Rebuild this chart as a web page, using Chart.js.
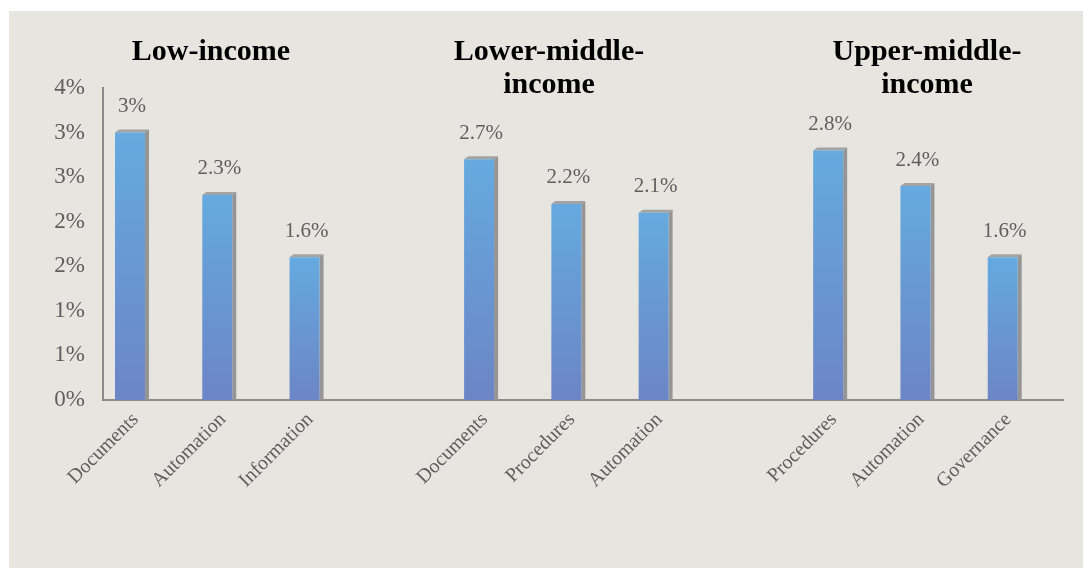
<!DOCTYPE html>
<html>
<head>
<meta charset="utf-8">
<script src="https://cdn.jsdelivr.net/npm/chart.js@4/dist/chart.umd.min.js"></script>
<style>
  html, body { margin: 0; padding: 0; background: #ffffff; }
  #wrap { position: relative; width: 1083px; height: 568px; }
</style>
</head>
<body>
<div id="wrap"><canvas id="c"></canvas></div>
<script>
// Top barriers by income group (share of firms, %)
const categories = [
  'Documents', 'Automation', 'Information', '',
  'Documents', 'Procedures', 'Automation', '',
  'Procedures', 'Automation', 'Governance'
];
const shareValues = [3.0, 2.3, 1.6, null, 2.7, 2.2, 2.1, null, 2.8, 2.4, 1.6];
const spacerValues = categories.map(() => null);
const yTickLabels = ['0%', '1%', '1%', '2%', '2%', '3%', '3%', '4%'];
const groupTitles = [
  { lines: ['Low-income'], x: 211 },
  { lines: ['Lower-middle-', 'income'], x: 549 },
  { lines: ['Upper-middle-', 'income'], x: 927 }
];

const SERIF = '"Liberation Serif", "Times New Roman", serif';
const GRAY_TEXT = '#5f5f5f';
const AXIS = '#8c8c8c';

function formatPct(v) {
  return (Number.isInteger(v) ? String(v) : v.toFixed(1)) + '%';
}

// Panel background
const panelPlugin = {
  id: 'panel',
  beforeDraw(chart) {
    const { ctx, width, height } = chart;
    ctx.save();
    ctx.fillStyle = '#ffffff';
    ctx.fillRect(0, 0, width, height);
    ctx.fillStyle = '#e6e5e0';
    ctx.fillRect(9, 11, width - 9, height - 11);
    ctx.restore();
  }
};

// Extruded grey edge behind each bar (top and right faces)
const depthPlugin = {
  id: 'depth',
  beforeDatasetsDraw(chart) {
    const { ctx } = chart;
    const meta = chart.getDatasetMeta(0);
    const dx = 4, dy = 3;
    ctx.save();
    meta.data.forEach((bar, i) => {
      if (shareValues[i] == null) return;
      const { x, y, base, width } = bar.getProps(['x', 'y', 'base', 'width'], true);
      const x0 = x - width / 2, x1 = x + width / 2;
      ctx.fillStyle = '#a3a3a3';
      ctx.beginPath();
      ctx.moveTo(x0, y);
      ctx.lineTo(x0 + dx, y - dy);
      ctx.lineTo(x1 + dx, y - dy);
      ctx.lineTo(x1, y);
      ctx.closePath();
      ctx.fill();
      ctx.fillStyle = '#959595';
      ctx.beginPath();
      ctx.moveTo(x1, y);
      ctx.lineTo(x1 + dx, y - dy);
      ctx.lineTo(x1 + dx, base);
      ctx.lineTo(x1, base);
      ctx.closePath();
      ctx.fill();
    });
    ctx.restore();
  }
};

// Value labels above bars and group headings
const labelPlugin = {
  id: 'labels',
  afterDatasetsDraw(chart) {
    const { ctx } = chart;
    const meta = chart.getDatasetMeta(0);
    ctx.save();
    ctx.font = '21px ' + SERIF;
    ctx.fillStyle = GRAY_TEXT;
    ctx.textAlign = 'center';
    ctx.textBaseline = 'middle';
    meta.data.forEach((bar, i) => {
      const v = shareValues[i];
      if (v == null) return;
      ctx.fillText(formatPct(v), bar.x + 2, bar.y - 26);
    });
    ctx.font = 'bold 30px ' + SERIF;
    ctx.fillStyle = '#000000';
    groupTitles.forEach(g => {
      g.lines.forEach((line, k) => {
        ctx.fillText(line, g.x, 52 + k * 33);
      });
    });
    ctx.restore();
  }
};

function barGradient(context) {
  const chart = context.chart;
  const yScale = chart.scales.y;
  const v = context.raw;
  if (!chart.chartArea || !yScale || v == null) return '#6899d2';
  const top = yScale.getPixelForValue(v);
  const base = yScale.getPixelForValue(0);
  const g = chart.ctx.createLinearGradient(0, top, 0, base);
  g.addColorStop(0, '#65aae0');
  g.addColorStop(1, '#6c85c6');
  return g;
}

new Chart(document.getElementById('c'), {
  type: 'bar',
  data: {
    labels: categories,
    datasets: [
      {
        label: 'Share',
        data: shareValues,
        backgroundColor: barGradient,
        borderWidth: 0,
        barPercentage: 0.9,
        categoryPercentage: 0.763
      },
      {
        label: 'Spacer',
        data: spacerValues,
        backgroundColor: 'rgba(0,0,0,0)',
        barPercentage: 0.9,
        categoryPercentage: 0.763
      }
    ]
  },
  options: {
    responsive: true,
    maintainAspectRatio: false,
    devicePixelRatio: 1,
    animation: false,
    layout: { padding: { top: 88, right: 20, left: 0, bottom: 0 } },
    plugins: {
      legend: { display: false },
      tooltip: { enabled: false },
      title: { display: false }
    },
    scales: {
      x: {
        grid: { display: false, drawTicks: false },
        border: { display: true, color: AXIS, width: 2 },
        ticks: {
          color: GRAY_TEXT,
          font: { family: SERIF, size: 20 },
          minRotation: 45,
          maxRotation: 45,
          autoSkip: false,
          padding: 8,
          labelOffset: -11
        },
        afterFit(scale) { scale.height = 168; }
      },
      y: {
        min: 0,
        max: 3.5,
        grid: { display: false, drawTicks: false },
        border: { display: true, color: AXIS, width: 2 },
        ticks: {
          stepSize: 0.5,
          color: GRAY_TEXT,
          font: { family: SERIF, size: 23 },
          padding: 18,
          callback: (value, index) => yTickLabels[index]
        },
        afterFit(scale) { scale.width = 103; }
      }
    }
  },
  plugins: [panelPlugin, depthPlugin, labelPlugin]
});
</script>
</body>
</html>
